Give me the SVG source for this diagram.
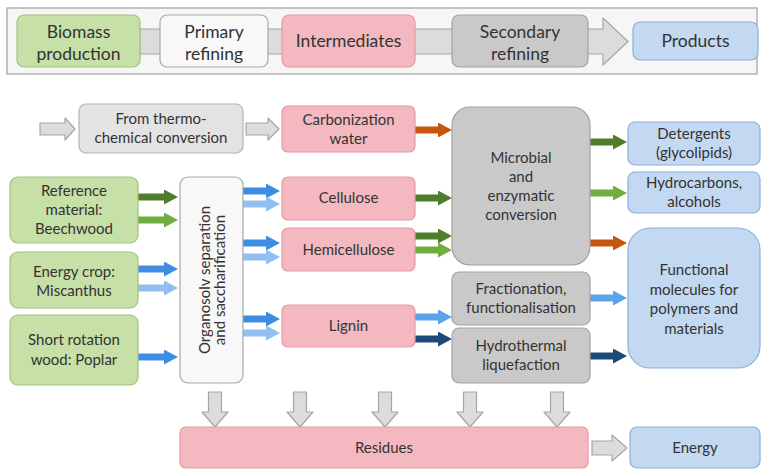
<svg xmlns="http://www.w3.org/2000/svg" width="761" height="470" viewBox="0 0 761 470">
<defs>
<style>
text{font-family:Lato,"Open Sans","Liberation Sans",sans-serif;fill:#333333;text-anchor:middle;font-size:15px}
.t{font-size:17.5px}
.green{fill:#c6e0a7;stroke:#9fc47c;stroke-width:1.2}
.pink{fill:#f4b9c0;stroke:#e29aa3;stroke-width:1.2}
.gray{fill:#c9c9c9;stroke:#a3a3a3;stroke-width:1.2}
.lgray{fill:#e3e3e3;stroke:#b3b3b3;stroke-width:1.2}
.blue{fill:#c3d8f1;stroke:#8eaedb;stroke-width:1.2}
.white{fill:#f8f8f8;stroke:#a8a8a8;stroke-width:1.2}
.ga{fill:#dcdcdc;stroke:#a6a6a6;stroke-width:1.2;stroke-linejoin:round}
.a{stroke-width:7;fill:none}
.dg{stroke:#4f7d2b}.lg{stroke:#6fae3f}.or{stroke:#c5560f}.bl{stroke:#3d8ee3}.lb{stroke:#93bff0}.mb{stroke:#5aa2ea}.nv{stroke:#1c4a7a}
</style>
<marker id="mdg" markerUnits="userSpaceOnUse" markerWidth="14" markerHeight="15" refX="0" refY="7.5" orient="auto"><path d="M0,0 L14,7.5 L0,15 Z" fill="#4f7d2b"/></marker>
<marker id="mlg" markerUnits="userSpaceOnUse" markerWidth="14" markerHeight="15" refX="0" refY="7.5" orient="auto"><path d="M0,0 L14,7.5 L0,15 Z" fill="#6fae3f"/></marker>
<marker id="mor" markerUnits="userSpaceOnUse" markerWidth="14" markerHeight="15" refX="0" refY="7.5" orient="auto"><path d="M0,0 L14,7.5 L0,15 Z" fill="#c5560f"/></marker>
<marker id="mbl" markerUnits="userSpaceOnUse" markerWidth="14" markerHeight="15" refX="0" refY="7.5" orient="auto"><path d="M0,0 L14,7.5 L0,15 Z" fill="#3d8ee3"/></marker>
<marker id="mlb" markerUnits="userSpaceOnUse" markerWidth="14" markerHeight="15" refX="0" refY="7.5" orient="auto"><path d="M0,0 L14,7.5 L0,15 Z" fill="#93bff0"/></marker>
<marker id="mmb" markerUnits="userSpaceOnUse" markerWidth="14" markerHeight="15" refX="0" refY="7.5" orient="auto"><path d="M0,0 L14,7.5 L0,15 Z" fill="#5aa2ea"/></marker>
<marker id="mnv" markerUnits="userSpaceOnUse" markerWidth="14" markerHeight="15" refX="0" refY="7.5" orient="auto"><path d="M0,0 L14,7.5 L0,15 Z" fill="#1c4a7a"/></marker>
</defs>
<rect width="761" height="470" fill="#ffffff"/>

<g id="banner">
<rect x="7" y="8" width="750" height="66" fill="#f6f6f6" stroke="#a0a0a0" stroke-width="1.2"/>
<path class="ga" d="M140,29 H603 V18 L628,41.5 L603,65 V54 H140 Z"/>
</g>
<g id="biomass-production"><rect class="green" x="17" y="15" width="123" height="52" rx="7"/><text class="t" x="78.5" y="38">Biomass</text><text class="t" x="78.5" y="60">production</text></g>
<g id="primary-refining"><rect class="white" x="160" y="15" width="108" height="52" rx="7"/><text class="t" x="214" y="38">Primary</text><text class="t" x="214" y="60">refining</text></g>
<g id="intermediates"><rect class="pink" x="282" y="15" width="133" height="52" rx="7"/><text class="t" x="348.5" y="47">Intermediates</text></g>
<g id="secondary-refining"><rect class="gray" x="452" y="15" width="136" height="52" rx="7"/><text class="t" x="520" y="38">Secondary</text><text class="t" x="520" y="60">refining</text></g>
<g id="products"><rect class="blue" x="633" y="22" width="125" height="38" rx="7"/><text class="t" x="695.5" y="47">Products</text></g>

<g id="connectors">
<path class="ga" d="M40,123 H65 V118 L75,129 L65,140 V135 H40 Z"/>
<path class="ga" d="M246,123 H268 V118 L279,129 L268,140 V135 H246 Z"/>
<line class="a or" x1="415" y1="130" x2="438" y2="130" marker-end="url(#mor)"/>
<line class="a dg" x1="415" y1="198" x2="438" y2="198" marker-end="url(#mdg)"/>
<line class="a dg" x1="415" y1="236" x2="438" y2="236" marker-end="url(#mdg)"/>
<line class="a lg" x1="415" y1="250" x2="438" y2="250" marker-end="url(#mlg)"/>
<line class="a dg" x1="590" y1="142" x2="613" y2="142" marker-end="url(#mdg)"/>
<line class="a lg" x1="590" y1="193" x2="613" y2="193" marker-end="url(#mlg)"/>
<line class="a or" x1="590" y1="243" x2="613" y2="243" marker-end="url(#mor)"/>
<line class="a dg" x1="138" y1="197" x2="164" y2="197" marker-end="url(#mdg)"/>
<line class="a lg" x1="138" y1="220" x2="164" y2="220" marker-end="url(#mlg)"/>
<line class="a bl" x1="138" y1="269" x2="164" y2="269" marker-end="url(#mbl)"/>
<line class="a lb" x1="138" y1="288" x2="164" y2="288" marker-end="url(#mlb)"/>
<line class="a bl" x1="138" y1="357" x2="164" y2="357" marker-end="url(#mbl)"/>
<line class="a bl" x1="243" y1="191" x2="266" y2="191" marker-end="url(#mbl)"/>
<line class="a lb" x1="243" y1="204" x2="266" y2="204" marker-end="url(#mlb)"/>
<line class="a bl" x1="243" y1="243" x2="266" y2="243" marker-end="url(#mbl)"/>
<line class="a lb" x1="243" y1="257" x2="266" y2="257" marker-end="url(#mlb)"/>
<line class="a bl" x1="243" y1="319" x2="266" y2="319" marker-end="url(#mbl)"/>
<line class="a lb" x1="243" y1="333" x2="266" y2="333" marker-end="url(#mlb)"/>
<line class="a mb" x1="415" y1="317" x2="438" y2="317" marker-end="url(#mmb)"/>
<line class="a nv" x1="415" y1="339" x2="438" y2="339" marker-end="url(#mnv)"/>
<line class="a mb" x1="590" y1="298" x2="613" y2="298" marker-end="url(#mmb)"/>
<line class="a nv" x1="590" y1="356" x2="613" y2="356" marker-end="url(#mnv)"/>
<path class="ga" d="M208.5,392 H221.5 V412 H228 L215,427 L202,412 H208.5 Z"/>
<path class="ga" d="M293.5,392 H306.5 V412 H313 L300,427 L287,412 H293.5 Z"/>
<path class="ga" d="M378.5,392 H391.5 V412 H398 L385,427 L372,412 H378.5 Z"/>
<path class="ga" d="M463.5,392 H476.5 V412 H483 L470,427 L457,412 H463.5 Z"/>
<path class="ga" d="M550.5,392 H563.5 V412 H570 L557,427 L544,412 H550.5 Z"/>
<path class="ga" d="M592,441 H612 V435 L627,448 L612,461 V455 H592 Z"/>
</g>

<g id="thermo"><rect class="lgray" x="79" y="104" width="164" height="49" rx="7"/><text x="161" y="124">From thermo-</text><text x="161" y="143">chemical conversion</text></g>
<g id="carbonization-water"><rect class="pink" x="282" y="106" width="133" height="46" rx="6"/><text x="348.5" y="125">Carbonization</text><text x="348.5" y="144">water</text></g>
<g id="cellulose"><rect class="pink" x="282" y="177" width="133" height="43" rx="6"/><text x="348.5" y="203">Cellulose</text></g>
<g id="hemicellulose"><rect class="pink" x="282" y="228" width="133" height="43" rx="6"/><text x="348.5" y="254.5">Hemicellulose</text></g>
<g id="lignin"><rect class="pink" x="282" y="305" width="133" height="42" rx="6"/><text x="348.5" y="331">Lignin</text></g>
<g id="microbial"><rect class="gray" x="452" y="107" width="138" height="158" rx="18"/><text x="521" y="163">Microbial</text><text x="521" y="182">and</text><text x="521" y="201">enzymatic</text><text x="521" y="220">conversion</text></g>
<g id="fractionation"><rect class="gray" x="452" y="272" width="138" height="53" rx="7"/><text x="521" y="294">Fractionation,</text><text x="521" y="313">functionalisation</text></g>
<g id="hydrothermal"><rect class="gray" x="452" y="328" width="138" height="55" rx="7"/><text x="521" y="351">Hydrothermal</text><text x="521" y="370">liquefaction</text></g>
<g id="detergents"><rect class="blue" x="628" y="122" width="132" height="43" rx="7"/><text x="694" y="139">Detergents</text><text x="694" y="158">(glycolipids)</text></g>
<g id="hydrocarbons"><rect class="blue" x="628" y="172" width="132" height="41" rx="7"/><text x="694" y="188">Hydrocarbons,</text><text x="694" y="207">alcohols</text></g>
<g id="functional"><rect class="blue" x="628" y="228" width="132" height="140" rx="22"/><text x="694" y="275">Functional</text><text x="694" y="295">molecules for</text><text x="694" y="314">polymers and</text><text x="694" y="334">materials</text></g>
<g id="beechwood"><rect class="green" x="10" y="177" width="128" height="66" rx="8"/><text x="74" y="196">Reference</text><text x="74" y="215">material:</text><text x="74" y="234">Beechwood</text></g>
<g id="miscanthus"><rect class="green" x="10" y="252" width="128" height="56" rx="8"/><text x="74" y="277">Energy crop:</text><text x="74" y="296">Miscanthus</text></g>
<g id="poplar"><rect class="green" x="10" y="315" width="128" height="70" rx="8"/><text x="74" y="345">Short rotation</text><text x="74" y="365">wood: Poplar</text></g>
<g id="organosolv"><rect class="white" x="180" y="177" width="63" height="206" rx="8"/><text transform="translate(210,280) rotate(-90)">Organosolv separation</text><text transform="translate(225,280) rotate(-90)">and saccharification</text></g>
<g id="residues"><rect class="pink" x="180" y="427" width="408" height="41" rx="6"/><text x="384" y="453">Residues</text></g>
<g id="energy"><rect class="blue" x="630" y="427" width="130" height="41" rx="7"/><text x="695" y="453">Energy</text></g>
</svg>
